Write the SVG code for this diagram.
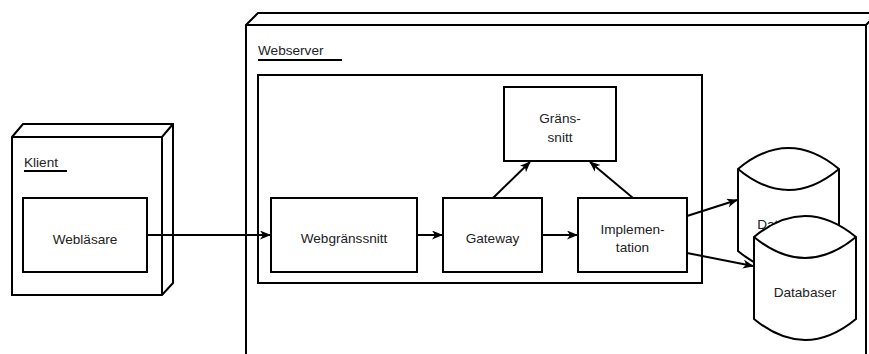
<svg xmlns="http://www.w3.org/2000/svg" width="869" height="354" viewBox="0 0 869 354">
  <style>
    .shape { fill: #ffffff; stroke: #000000; stroke-width: 2; }
    .edge { fill: none; stroke: #000000; stroke-width: 2; }
    .lbl { font-family: "Liberation Sans", Arial, sans-serif; font-size: 13.6px; fill: #222222; }
    .mid { text-anchor: middle; }
  </style>
  <defs>
    <marker id="arrow" markerUnits="userSpaceOnUse" markerWidth="12" markerHeight="10" refX="10" refY="4.5" orient="auto">
      <path d="M0,0 L11,4.5 L0,9 L3,4.5 Z" fill="#000000"/>
    </marker>
  </defs>

  <rect width="869" height="354" fill="#ffffff"/>

  <!-- Client node (3D box) -->
  <g id="klient">
    <path class="shape" d="M12,137 L23,124 L173,124 L173,283 L162,295 L12,295 Z"/>
    <path class="edge" d="M12,137 L162,137 L173,124 M162,137 L162,295"/>
    <text class="lbl" x="24" y="167">Klient</text>
    <line class="edge" x1="24" y1="171" x2="67" y2="171" stroke-width="1.5"/>
  </g>

  <g id="weblasare">
    <rect class="shape" x="23" y="198" width="124" height="74"/>
    <text class="lbl mid" x="85" y="243.5">Webläsare</text>
  </g>

  <!-- Web server node (3D box, extends past the frame) -->
  <g id="webserver">
    <path class="shape" d="M246,360 L246,25 L258,13 L880,13 L880,360 Z"/>
    <path class="edge" d="M246,25 L866,25 L878,13 M866,25 L866,360"/>
    <text class="lbl" x="258" y="55">Webserver</text>
    <line class="edge" x1="258" y1="60" x2="342" y2="60" stroke-width="1.5"/>
  </g>

  <g id="komponent">
    <rect class="shape" x="258" y="75" width="444" height="208"/>
  </g>

  <g id="gransnitt">
    <rect class="shape" x="504" y="87" width="112" height="74"/>
    <text class="lbl mid" x="560" y="123">Gräns-</text>
    <text class="lbl mid" x="560" y="142">snitt</text>
  </g>

  <g id="webgranssnitt">
    <rect class="shape" x="271" y="198" width="146" height="74"/>
    <text class="lbl mid" x="344" y="243">Webgränssnitt</text>
  </g>

  <g id="gateway">
    <rect class="shape" x="443" y="198" width="99" height="74"/>
    <text class="lbl mid" x="492.5" y="243">Gateway</text>
  </g>

  <g id="implementation">
    <rect class="shape" x="578" y="198" width="109" height="74"/>
    <text class="lbl mid" x="632.5" y="234">Implemen-</text>
    <text class="lbl mid" x="632.5" y="252">tation</text>
  </g>

  <!-- Data stores -->
  <g id="databas1">
    <path class="shape" d="M738,169 Q788.5,127 839,169 L839,251 Q788.5,293 738,251 Z"/>
    <path class="edge" d="M738,169 Q788.5,211 839,169"/>
    <text class="lbl mid" x="788.5" y="229">Databaser</text>
  </g>

  <g id="databas2">
    <path class="shape" d="M754,237 Q805,195 856,237 L856,319 Q805,361 754,319 Z"/>
    <path class="edge" d="M754,237 Q805,279 856,237"/>
    <text class="lbl mid" x="805" y="297">Databaser</text>
  </g>

  <!-- Connectors -->
  <g id="connectors">
    <line class="edge" x1="147" y1="235" x2="270" y2="235" marker-end="url(#arrow)"/>
    <line class="edge" x1="417" y1="235" x2="442" y2="235" marker-end="url(#arrow)"/>
    <line class="edge" x1="542" y1="235" x2="577" y2="235" marker-end="url(#arrow)"/>
    <line class="edge" x1="493" y1="198" x2="530" y2="162" marker-end="url(#arrow)"/>
    <line class="edge" x1="633" y1="198" x2="590" y2="162" marker-end="url(#arrow)"/>
    <line class="edge" x1="687" y1="216" x2="737" y2="200" marker-end="url(#arrow)"/>
    <line class="edge" x1="687" y1="253" x2="753" y2="266" marker-end="url(#arrow)"/>
  </g>
</svg>
